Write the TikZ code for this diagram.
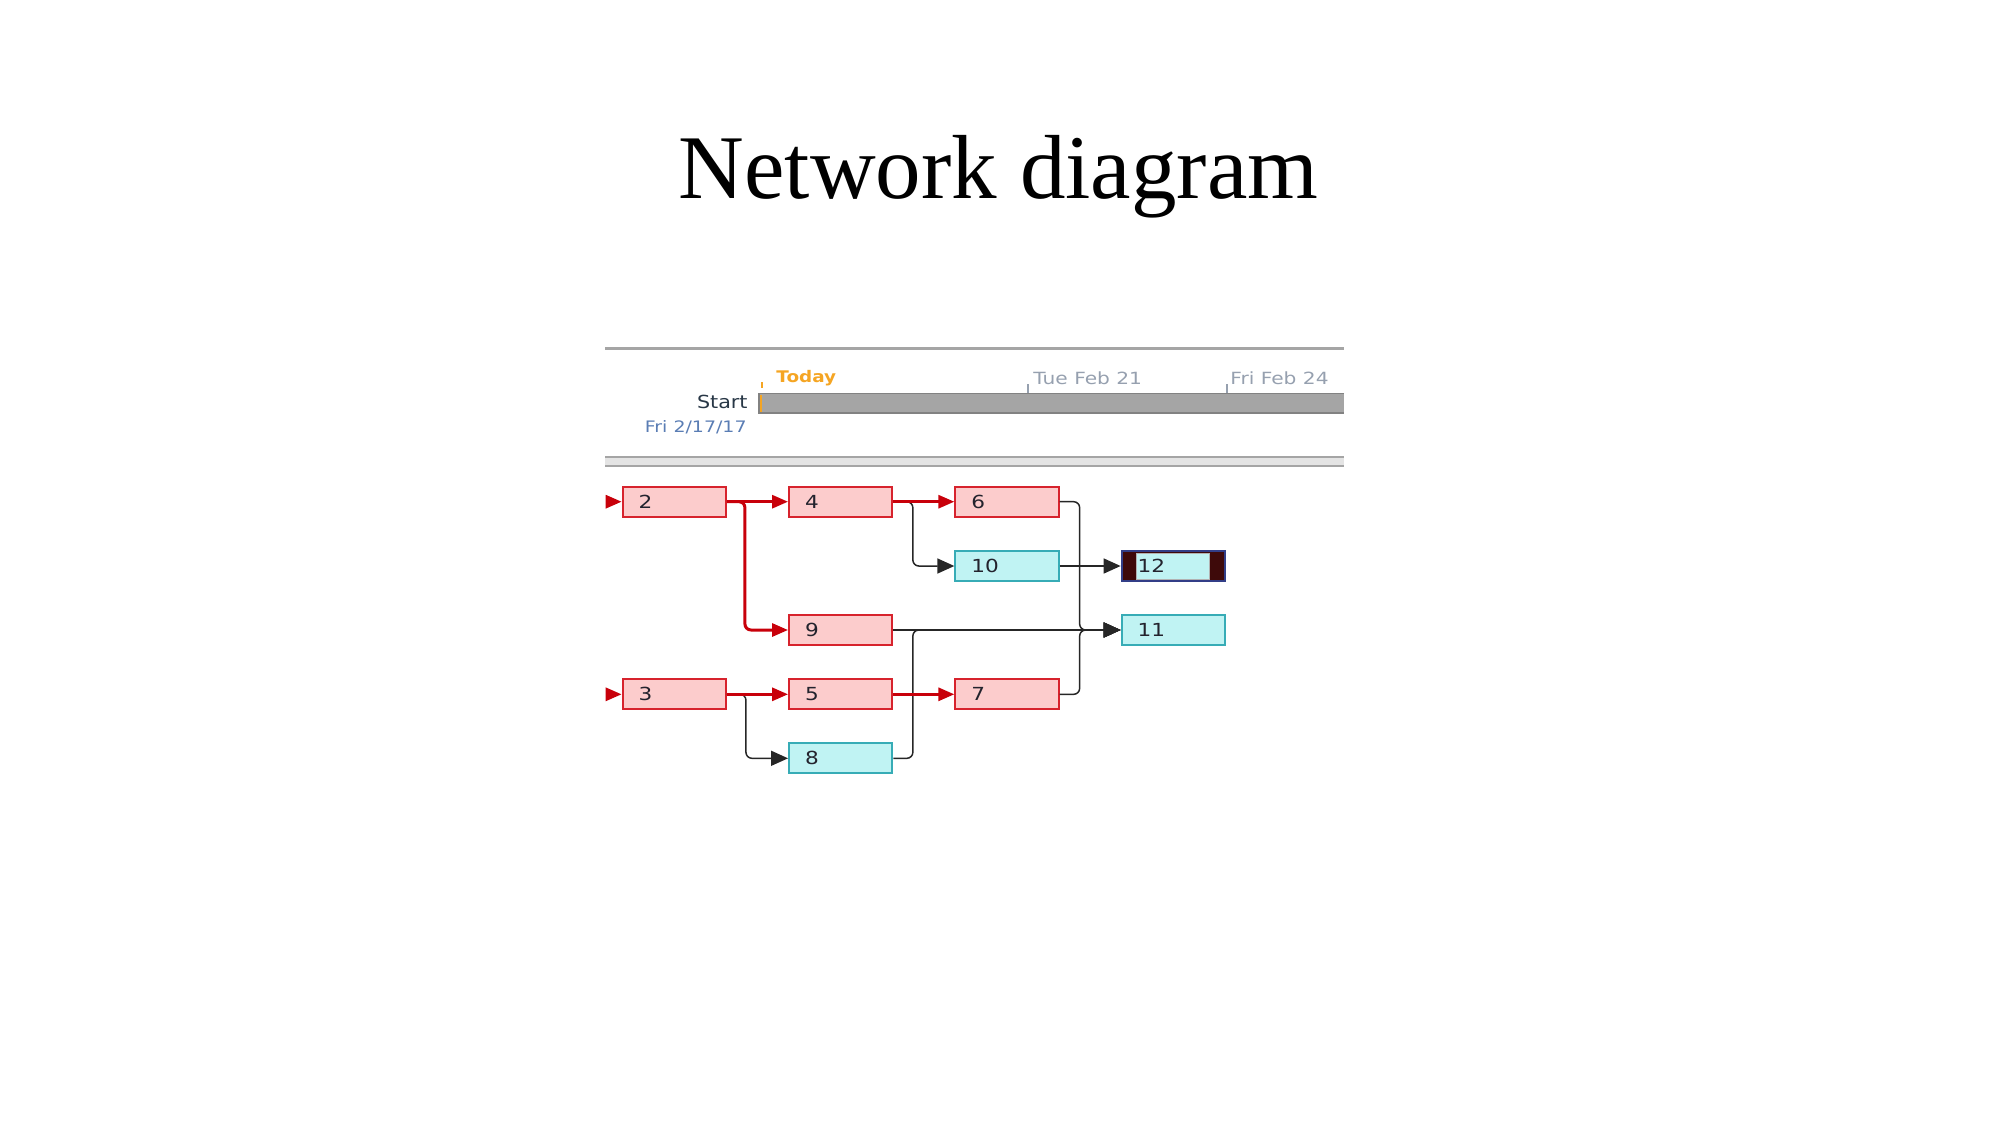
\documentclass[tikz,border=0pt]{standalone}
\usepackage{fontspec}
\setmainfont{Liberation Serif}
\newfontfamily\uifont{DejaVu Sans}
\usetikzlibrary{arrows.meta}
\definecolor{pinkfill}{RGB}{252,204,204}
\definecolor{redborder}{RGB}{215,35,45}
\definecolor{cyanfill}{RGB}{192,243,243}
\definecolor{cyanborder}{RGB}{55,172,182}
\definecolor{redline}{RGB}{200,0,10}
\definecolor{maroon12}{RGB}{62,10,10}
\definecolor{navy12}{RGB}{50,62,135}
\definecolor{todayorange}{RGB}{245,165,35}
\definecolor{startdark}{RGB}{40,55,70}
\definecolor{dateblue}{RGB}{90,125,180}
\definecolor{dategray}{RGB}{150,160,175}
\definecolor{linegray}{RGB}{165,165,165}
\definecolor{bandgray}{RGB}{228,228,228}
\definecolor{bargray}{RGB}{165,165,165}
\definecolor{bardark}{RGB}{130,130,130}
\definecolor{labeldark}{RGB}{35,35,45}
\newcommand{\wide}[1]{\scalebox{1.2}[1]{#1}}
\begin{document}
\begin{tikzpicture}[x=0.5pt,y=-0.5pt,
  taskbox/.style={rectangle, line width=1pt, minimum height=15pt,
    inner xsep=8pt, inner ysep=0pt, text width=35.65pt, align=left,
    text=labeldark, font=\uifont\fontsize{9}{10}\selectfont},
  crit/.style={taskbox, fill=pinkfill, draw=redborder},
  noncrit/.style={taskbox, fill=cyanfill, draw=cyanborder},
  milestone/.style={taskbox, fill=maroon12, draw=navy12,
    path picture={\fill[cyanfill, draw=gray!60, line width=0.5pt]
      ([xshift=7.5pt,yshift=1pt]path picture bounding box.south west) rectangle
      ([xshift=-7.5pt,yshift=-1pt]path picture bounding box.north east);}},
  redlink/.style={draw=redline, line width=1.5pt, rounded corners=3pt,
    -{Triangle[length=8pt,width=6.5pt]}},
  blacklink/.style={draw=black!85, line width=0.75pt, rounded corners=3pt,
    -{Triangle[length=8.5pt,width=7.5pt]}},
  uitext/.style={inner sep=0pt, font=\uifont\fontsize{8.4}{10}\selectfont}
]
\useasboundingbox (0,0) rectangle (2001,1125);

% title
\node[anchor=base, font=\fontsize{45.5}{50}\selectfont] (title) at (998.5,198) {Network diagram};

% timeline header
\draw[linegray, line width=1.5pt] (605,348.5) -- (1344,348.5);
\fill[bandgray] (605,456) rectangle (1344,467);
\draw[linegray, line width=1pt] (605,457) -- (1344,457);
\draw[linegray, line width=1pt] (605,466) -- (1344,466);
\fill[bargray] (759,393.5) rectangle (1344,413);
\draw[bardark, line width=0.8pt] (1344,393.5) -- (759,393.5) -- (759,413) -- (1344,413);
\draw[todayorange, line width=1pt] (760.5,395) -- (760.5,412);
\draw[todayorange, line width=0.8pt] (762,382) -- (762,388);
\draw[dategray, line width=0.8pt] (1028,384) -- (1028,393);
\draw[dategray, line width=0.8pt] (1227,384) -- (1227,393);

\node[uitext, anchor=west, text=todayorange, font=\uifont\bfseries\fontsize{8}{9}\selectfont] (today) at (776,378) {\scalebox{1.15}[1]{Today}};
\node[uitext, anchor=west, text=dategray] (tue) at (1033,378) {\wide{Tue Feb 21}};
\node[uitext, anchor=west, text=dategray] (fri) at (1230,378) {\wide{Fri Feb 24}};
\node[uitext, anchor=east, text=startdark, font=\uifont\fontsize{9}{10}\selectfont] (start) at (748,402) {\scalebox{1.15}[1]{Start}};
\node[uitext, anchor=east, text=dateblue, font=\uifont\fontsize{7.9}{9}\selectfont] (startdate) at (747,427) {\wide{Fri 2/17/17}};

% task boxes
\node[crit] (n2) at (674.3,501.7) {\wide{2}};
\node[crit] (n4) at (840.7,501.7) {\wide{4}};
\node[crit] (n6) at (1007,501.7) {\wide{6}};
\node[noncrit] (n10) at (1007,566) {\wide{10}};
\node[milestone] (n12) at (1173.3,566) {\wide{12}};
\node[crit] (n9) at (840.7,630) {\wide{9}};
\node[noncrit] (n11) at (1173.3,630) {\wide{11}};
\node[crit] (n3) at (674.3,694.3) {\wide{3}};
\node[crit] (n5) at (840.7,694.3) {\wide{5}};
\node[crit] (n7) at (1007,694.3) {\wide{7}};
\node[noncrit] (n8) at (840.7,758.3) {\wide{8}};

\coordinate (in2) at (606,501.7);
\coordinate (in3) at (606,694.3);

% non-critical links
\draw[blacklink] (n3.east) -- ++(19,0) |- (n8.west);
\draw[blacklink] (n4.east) -- ++(19.5,0) |- (n10.west);
\draw[blacklink] (n10) -- (n12);
\draw[blacklink] (n9) -- (n11);
\draw[blacklink] (n6.east) -- ++(20,0) |- (n11.west);
\draw[blacklink] (n7.east) -- ++(20,0) |- (n11.west);
\draw[blacklink] (n8.east) -- ++(19.5,0) |- (n11.west);

% critical links
\draw[redlink] (in2) -- (n2);
\draw[redlink] (n2) -- (n4);
\draw[redlink] (n4) -- (n6);
\draw[redlink] (n2.east) -- ++(18,0) |- (n9.west);
\draw[redlink] (in3) -- (n3);
\draw[redlink] (n3) -- (n5);
\draw[redlink] (n5) -- (n7);
\end{tikzpicture}
\end{document}
